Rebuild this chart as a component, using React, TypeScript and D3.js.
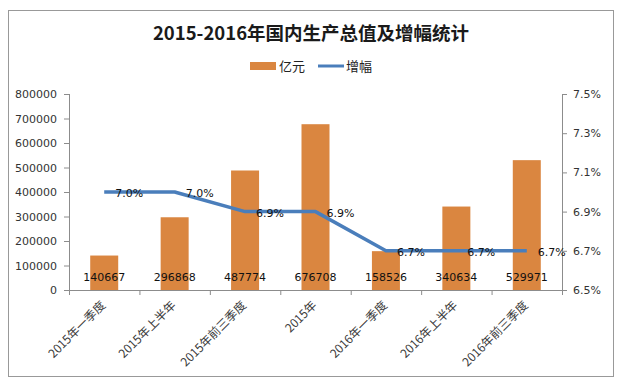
import React from 'react';
import * as d3 from 'd3';

const categories = ['2015年一季度', '2015年上半年', '2015年前三季度', '2015年', '2016年一季度', '2016年上半年', '2016年前三季度'];
const gdpValues = [140667, 296868, 487774, 676708, 158526, 340634, 529971];
const growthValues = [7.0, 7.0, 6.9, 6.9, 6.7, 6.7, 6.7];
const leftTicks = [0, 100000, 200000, 300000, 400000, 500000, 600000, 700000, 800000];
const rightTicks = [6.5, 6.7, 6.9, 7.1, 7.3, 7.5];

const W = 623;
const H = 388;
const margin = { top: 94, right: 61, bottom: 98, left: 69 };
const BAR = '#DA8640';
const LINE = '#4A7EBB';
const AXIS = '#8c8c8c';
const font = '"DejaVu Sans", sans-serif';
const cjk = '"Noto Sans CJK SC", sans-serif';

const App = () => {
    const x = d3.scaleBand().domain(categories).range([margin.left, W - margin.right]);
    const yL = d3.scaleLinear().domain([0, 800000]).range([H - margin.bottom, margin.top]);
    const yR = d3.scaleLinear().domain([6.5, 7.5]).range([H - margin.bottom, margin.top]);
    const cx = (c: string) => (x(c) as number) + x.bandwidth() / 2;
    const barW = 28;
    const base = H - margin.bottom;

    const line = d3.line<number>()
        .x((d, i) => cx(categories[i]))
        .y(d => yR(d));

    return (
        <svg width={W} height={H} style={{ position: 'absolute', left: 0, top: 0, background: '#fff' }}>
            <rect x={8.5} y={10.5} width={605} height={366} fill="#fff" stroke="#999" />
            <text x={311} y={40} textAnchor="middle" fontFamily={cjk} fontWeight="bold" fontSize={18.5} fill="#1a1a1a">
                2015-2016年国内生产总值及增幅统计
            </text>

            {/* legend */}
            <rect x={250} y={62} width={26} height={8} fill={BAR} />
            <text x={279} y={71} fontFamily={cjk} fontSize={13} fill="#222">亿元</text>
            <line x1={318} x2={344} y1={66} y2={66} stroke={LINE} strokeWidth={3} />
            <text x={346} y={71} fontFamily={cjk} fontSize={13} fill="#222">增幅</text>

            {/* bars */}
            {gdpValues.map((v, i) => (
                <rect key={i} x={cx(categories[i]) - barW / 2} y={yL(v)} width={barW} height={base - yL(v)} fill={BAR} />
            ))}

            {/* left axis */}
            <line x1={margin.left + 0.5} x2={margin.left + 0.5} y1={margin.top} y2={base} stroke={AXIS} />
            {leftTicks.map(t => (
                <g key={t}>
                    <line x1={margin.left - 5} x2={margin.left} y1={yL(t) + 0.5} y2={yL(t) + 0.5} stroke={AXIS} />
                    <text x={57} y={yL(t) + 4} textAnchor="end" fontFamily={font} fontSize={11} fill="#333">{t}</text>
                </g>
            ))}

            {/* right axis */}
            <line x1={W - margin.right + 0.5} x2={W - margin.right + 0.5} y1={margin.top} y2={base} stroke={AXIS} />
            {rightTicks.map(t => (
                <g key={t}>
                    <line x1={W - margin.right} x2={W - margin.right + 5} y1={yR(t) + 0.5} y2={yR(t) + 0.5} stroke={AXIS} />
                    <text x={573} y={yR(t) + 4} fontFamily={font} fontSize={11} fill="#333">{t.toFixed(1)}%</text>
                </g>
            ))}

            {/* x axis */}
            <line x1={margin.left} x2={W - margin.right} y1={base + 0.5} y2={base + 0.5} stroke={AXIS} />
            {categories.map((c, i) => (
                <line key={'t' + i} x1={(x(c) as number) + 0.5} x2={(x(c) as number) + 0.5} y1={base} y2={base + 5} stroke={AXIS} />
            ))}
            <line x1={W - margin.right + 0.5} x2={W - margin.right + 0.5} y1={base} y2={base + 5} stroke={AXIS} />
            {categories.map(c => (
                <text key={c} transform={`translate(${cx(c) + 2},${base + 16}) rotate(-45)`} textAnchor="end"
                    fontFamily={cjk} fontSize={12} fill="#3a3a3a">{c}</text>
            ))}

            {/* growth line */}
            <path d={line(growthValues) as string} fill="none" stroke={LINE} strokeWidth={3.5} strokeLinejoin="round" />

            {/* bar labels */}
            {gdpValues.map((v, i) => (
                <text key={'b' + i} x={cx(categories[i])} y={281} textAnchor="middle" fontFamily={font} fontSize={11} fill="#111">{v}</text>
            ))}

            {/* line labels */}
            {growthValues.map((v, i) => (
                <text key={'l' + i} x={cx(categories[i]) + 11} y={yR(v) + 5} fontFamily={font} fontSize={11} fill="#111">{v.toFixed(1)}%</text>
            ))}
        </svg>
    );
};

export default App;
